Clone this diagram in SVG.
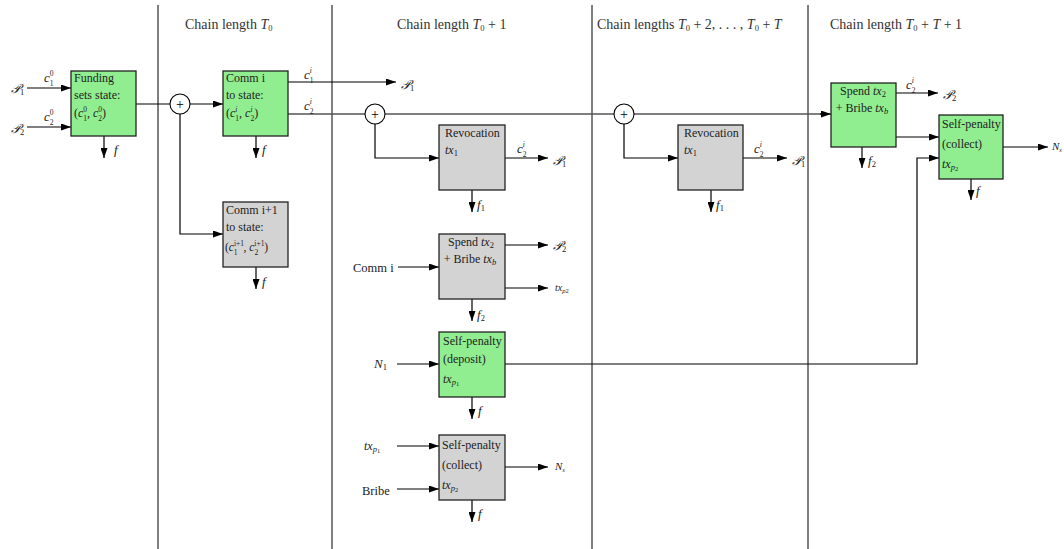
<svg xmlns="http://www.w3.org/2000/svg" width="1064" height="549" viewBox="0 0 1064 549">
<defs>
<marker id="ah" viewBox="0 0 10 7" refX="10" refY="3.5" markerWidth="10" markerHeight="7" markerUnits="userSpaceOnUse" orient="auto"><path d="M0,0 L10,3.5 L0,7 z" fill="#000"/></marker>
</defs>
<style>
text{font-family:"Liberation Serif","DejaVu Serif",serif;fill:#222}
.hd{font-size:14px;fill:#333}
.bt{font-size:12px}
.lb{font-size:13px}
.it{font-style:italic}
.sm{font-size:8.5px}
.st{font-size:7.5px}
.ss{font-size:6.5px}
.box{stroke:#222;stroke-width:1.3}
.g{fill:#90ee90}
.y{fill:#d3d3d3}
.c{stroke:#000;stroke-width:1.2;fill:none}
.cg{stroke:#555;stroke-width:1.4;fill:none}
.a{marker-end:url(#ah)}
.sep{stroke:#000;stroke-width:1}
.ci{fill:#fff;stroke:#000;stroke-width:1.1}
</style>
<rect width="1064" height="549" fill="#fff"/>
<g id="separators">
<line class="sep" x1="158" y1="5" x2="158" y2="549"/>
<line class="sep" x1="332" y1="5" x2="332" y2="549"/>
<line class="sep" x1="592" y1="5" x2="592" y2="549"/>
<line class="sep" x1="808" y1="5" x2="808" y2="549"/>
</g>
<g id="headers">
<text class="hd" x="185" y="29">Chain length <tspan class="it">T</tspan><tspan class="sm" dy="2">0</tspan></text>
<text class="hd" x="397" y="29">Chain length <tspan class="it">T</tspan><tspan class="sm" dy="2">0</tspan><tspan dy="-2"> + 1</tspan></text>
<text class="hd" x="597" y="29">Chain lengths <tspan class="it">T</tspan><tspan class="sm" dy="2">0</tspan><tspan dy="-2"> + 2, . . . , </tspan><tspan class="it">T</tspan><tspan class="sm" dy="2">0</tspan><tspan dy="-2"> + </tspan><tspan class="it">T</tspan></text>
<text class="hd" x="830" y="29">Chain length <tspan class="it">T</tspan><tspan class="sm" dy="2">0</tspan><tspan dy="-2"> + </tspan><tspan class="it">T</tspan><tspan> + 1</tspan></text>
</g>
<g id="connectors">
<line class="c a" x1="27" y1="88" x2="71" y2="88"/>
<line class="c a" x1="27" y1="127" x2="71" y2="127"/>
<line class="c a" x1="104" y1="136" x2="104" y2="158"/>
<line class="c" x1="136" y1="104" x2="170" y2="104"/>
<line class="c a" x1="190" y1="104" x2="223" y2="104"/>
<path class="c a" d="M180,114 V234 H223"/>
<line class="c a" x1="256" y1="136" x2="256" y2="158"/>
<line class="c a" x1="256" y1="267" x2="256" y2="289"/>
<line class="c a" x1="288" y1="82" x2="396" y2="82"/>
<line class="cg" x1="288" y1="114" x2="365" y2="114"/>
<line class="cg" x1="385" y1="114" x2="614" y2="114"/>
<line class="cg" x1="634" y1="114" x2="822" y2="114"/>
<line class="c a" x1="820" y1="114" x2="831" y2="114"/>
<path class="c a" d="M375,124 V158 H439"/>
<line class="c a" x1="505" y1="158" x2="548" y2="158"/>
<line class="c a" x1="472" y1="190" x2="472" y2="212"/>
<line class="c a" x1="398" y1="267" x2="439" y2="267"/>
<line class="c a" x1="505" y1="245" x2="548" y2="245"/>
<line class="c a" x1="505" y1="288" x2="548" y2="288"/>
<line class="c a" x1="472" y1="299" x2="472" y2="321"/>
<line class="c a" x1="397" y1="364" x2="439" y2="364"/>
<path class="c a" d="M505,364 H917 V158 H939"/>
<line class="c a" x1="472" y1="397" x2="472" y2="419"/>
<line class="c a" x1="397" y1="446" x2="439" y2="446"/>
<line class="c a" x1="397" y1="489" x2="439" y2="489"/>
<line class="c a" x1="505" y1="467" x2="548" y2="467"/>
<line class="c a" x1="472" y1="500" x2="472" y2="522"/>
<path class="c a" d="M624,124 V158 H678"/>
<line class="c a" x1="743" y1="158" x2="787" y2="158"/>
<line class="c a" x1="711" y1="190" x2="711" y2="212"/>
<line class="c a" x1="896" y1="93" x2="938" y2="93"/>
<line class="c a" x1="896" y1="137" x2="939" y2="137"/>
<line class="c a" x1="862" y1="147" x2="862" y2="168"/>
<line class="c a" x1="1003" y1="147" x2="1048" y2="147"/>
<line class="c a" x1="971" y1="179" x2="971" y2="200"/>
</g>
<g id="plus1"><circle class="ci" cx="180" cy="104" r="10"/><text x="180" y="109" text-anchor="middle" style="font-size:14px;fill:#000">+</text></g>
<g id="plus2"><circle class="ci" cx="375" cy="114" r="10"/><text x="375" y="119" text-anchor="middle" style="font-size:14px;fill:#000">+</text></g>
<g id="plus3"><circle class="ci" cx="624" cy="114" r="10"/><text x="624" y="119" text-anchor="middle" style="font-size:14px;fill:#000">+</text></g>
<g id="funding">
<rect class="box g" x="71" y="71" width="65" height="65"/>
<text class="bt" x="74" y="82">Funding</text>
<text class="bt" x="74" y="99">sets state:</text>
<text class="bt" x="74" y="117">(<tspan class="it">c</tspan><tspan class="st" dy="-5">0</tspan><tspan class="st" dx="-3.8" dy="8.5">1</tspan><tspan dy="-3.5">, </tspan><tspan class="it">c</tspan><tspan class="st" dy="-5">0</tspan><tspan class="st" dx="-3.8" dy="8.5">2</tspan><tspan dy="-3.5">)</tspan></text>
</g>
<g id="funding-labels">
<text class="lb" x="11" y="93"><tspan class="it">𝒫</tspan><tspan class="sm" dy="2">1</tspan></text>
<text class="lb" x="11" y="133"><tspan class="it">𝒫</tspan><tspan class="sm" dy="2">2</tspan></text>
<text class="lb" x="44" y="82"><tspan class="it">c</tspan><tspan class="st" dy="-6">0</tspan><tspan class="st" dx="-3.8" dy="9.5">1</tspan></text>
<text class="lb" x="44" y="121"><tspan class="it">c</tspan><tspan class="st" dy="-6">0</tspan><tspan class="st" dx="-3.8" dy="9.5">2</tspan></text>
<text class="lb it" x="114" y="154">f</text>
</g>
<g id="comm-i">
<rect class="box g" x="223" y="71" width="65" height="65"/>
<text class="bt" x="226" y="82">Comm i</text>
<text class="bt" x="226" y="99">to state:</text>
<text class="bt" x="226" y="117">(<tspan class="it">c</tspan><tspan class="st it" dy="-5">i</tspan><tspan class="st" dx="-2.1" dy="8.5">1</tspan><tspan dy="-3.5">, </tspan><tspan class="it">c</tspan><tspan class="st it" dy="-5">i</tspan><tspan class="st" dx="-2.1" dy="8.5">2</tspan><tspan dy="-3.5">)</tspan></text>
<text class="lb it" x="262" y="154">f</text>
<text class="lb" x="304" y="79"><tspan class="it">c</tspan><tspan class="st it" dy="-6">i</tspan><tspan class="st" dx="-2.1" dy="9.5">1</tspan></text>
<text class="lb" x="304" y="110"><tspan class="it">c</tspan><tspan class="st it" dy="-6">i</tspan><tspan class="st" dx="-2.1" dy="9.5">2</tspan></text>
<text class="lb" x="401" y="89"><tspan class="it">𝒫</tspan><tspan class="sm" dy="2">1</tspan></text>
</g>
<g id="comm-i1">
<rect class="box y" x="223" y="202" width="65" height="65"/>
<text class="bt" x="226" y="214">Comm i+1</text>
<text class="bt" x="226" y="231">to state:</text>
<text class="bt" x="225" y="251" style="font-size:11.5px">(<tspan class="it">c</tspan><tspan class="st" dy="-5">i+1</tspan><tspan class="st" dx="-10" dy="8.5">1</tspan><tspan dx="6" dy="-3.5">, </tspan><tspan class="it">c</tspan><tspan class="st" dy="-5">i+1</tspan><tspan class="st" dx="-10" dy="8.5">2</tspan><tspan dx="6" dy="-3.5">)</tspan></text>
<text class="lb it" x="262" y="286">f</text>
</g>
<g id="revocation-1">
<rect class="box y" x="439" y="125" width="66" height="65"/>
<text class="bt" x="445" y="137">Revocation</text>
<text class="bt" x="445" y="154"><tspan class="it">tx</tspan><tspan class="sm" dy="2">1</tspan></text>
<text class="lb" x="517" y="153"><tspan class="it">c</tspan><tspan class="st it" dy="-6">i</tspan><tspan class="st" dx="-2.1" dy="9.5">2</tspan></text>
<text class="lb" x="553" y="165"><tspan class="it">𝒫</tspan><tspan class="sm" dy="2">1</tspan></text>
<text class="lb" x="477" y="209"><tspan class="it">f</tspan><tspan class="sm" dy="2">1</tspan></text>
</g>
<g id="spend-1">
<rect class="box y" x="439" y="234" width="66" height="65"/>
<text class="bt" x="471" y="246" text-anchor="middle">Spend <tspan class="it">tx</tspan><tspan class="sm" dy="2">2</tspan></text>
<text class="bt" x="470" y="263" text-anchor="middle">+ Bribe <tspan class="it">tx</tspan><tspan class="sm it" dy="2">b</tspan></text>
<text class="bt" x="353" y="272" style="font-size:12.5px">Comm i</text>
<text class="lb" x="553" y="250"><tspan class="it">𝒫</tspan><tspan class="sm" dy="2">2</tspan></text>
<text style="font-size:10px" x="555" y="291"><tspan class="it">tx</tspan><tspan class="it ss" dy="2">p</tspan><tspan class="ss">2</tspan></text>
<text class="lb" x="477" y="319"><tspan class="it">f</tspan><tspan class="sm" dy="2">2</tspan></text>
</g>
<g id="selfpenalty-deposit">
<rect class="box g" x="439" y="332" width="66" height="65"/>
<text class="bt" x="443" y="345">Self-penalty</text>
<text class="bt" x="443" y="363">(deposit)</text>
<text class="bt" x="443" y="383"><tspan class="it">tx</tspan><tspan class="sm it" dy="2">p</tspan><tspan class="ss" dy="1">1</tspan></text>
<text class="lb" x="374" y="368"><tspan class="it">N</tspan><tspan class="sm" dy="2">1</tspan></text>
<text class="lb it" x="478" y="415">f</text>
</g>
<g id="selfpenalty-collect-1">
<rect class="box y" x="439" y="435" width="66" height="65"/>
<text class="bt" x="442" y="449">Self-penalty</text>
<text class="bt" x="442" y="469">(collect)</text>
<text class="bt" x="442" y="489"><tspan class="it">tx</tspan><tspan class="sm it" dy="2">p</tspan><tspan class="ss" dy="1">2</tspan></text>
<text class="bt" x="364" y="450"><tspan class="it">tx</tspan><tspan class="sm it" dy="2">p</tspan><tspan class="ss" dy="1">1</tspan></text>
<text class="bt" x="362" y="495" style="font-size:12.5px">Bribe</text>
<text style="font-size:11px" x="555" y="470"><tspan class="it">N</tspan><tspan class="it ss" dy="2">s</tspan></text>
<text class="lb it" x="478" y="518">f</text>
</g>
<g id="revocation-2">
<rect class="box y" x="678" y="125" width="65" height="65"/>
<text class="bt" x="684" y="137">Revocation</text>
<text class="bt" x="684" y="154"><tspan class="it">tx</tspan><tspan class="sm" dy="2">1</tspan></text>
<text class="lb" x="754" y="153"><tspan class="it">c</tspan><tspan class="st it" dy="-6">i</tspan><tspan class="st" dx="-2.1" dy="9.5">2</tspan></text>
<text class="lb" x="792" y="165"><tspan class="it">𝒫</tspan><tspan class="sm" dy="2">1</tspan></text>
<text class="lb" x="716" y="209"><tspan class="it">f</tspan><tspan class="sm" dy="2">1</tspan></text>
</g>
<g id="spend-2">
<rect class="box g" x="831" y="83" width="65" height="64"/>
<text class="bt" x="863" y="95" text-anchor="middle">Spend <tspan class="it">tx</tspan><tspan class="sm" dy="2">2</tspan></text>
<text class="bt" x="862" y="112" text-anchor="middle">+ Bribe <tspan class="it">tx</tspan><tspan class="sm it" dy="2">b</tspan></text>
<text class="lb" x="906" y="89"><tspan class="it">c</tspan><tspan class="st it" dy="-6">i</tspan><tspan class="st" dx="-2.1" dy="9.5">2</tspan></text>
<text class="lb" x="943" y="99"><tspan class="it">𝒫</tspan><tspan class="sm" dy="2">2</tspan></text>
<text class="lb" x="868" y="165"><tspan class="it">f</tspan><tspan class="sm" dy="2">2</tspan></text>
</g>
<g id="selfpenalty-collect-2">
<rect class="box g" x="939" y="115" width="64" height="64"/>
<text class="bt" x="942" y="128">Self-penalty</text>
<text class="bt" x="942" y="148">(collect)</text>
<text class="bt" x="942" y="168"><tspan class="it">tx</tspan><tspan class="sm it" dy="2">p</tspan><tspan class="ss" dy="1">2</tspan></text>
<text style="font-size:11px" x="1052" y="150"><tspan class="it">N</tspan><tspan class="it ss" dy="2">s</tspan></text>
<text class="lb it" x="976" y="195">f</text>
</g>
</svg>
